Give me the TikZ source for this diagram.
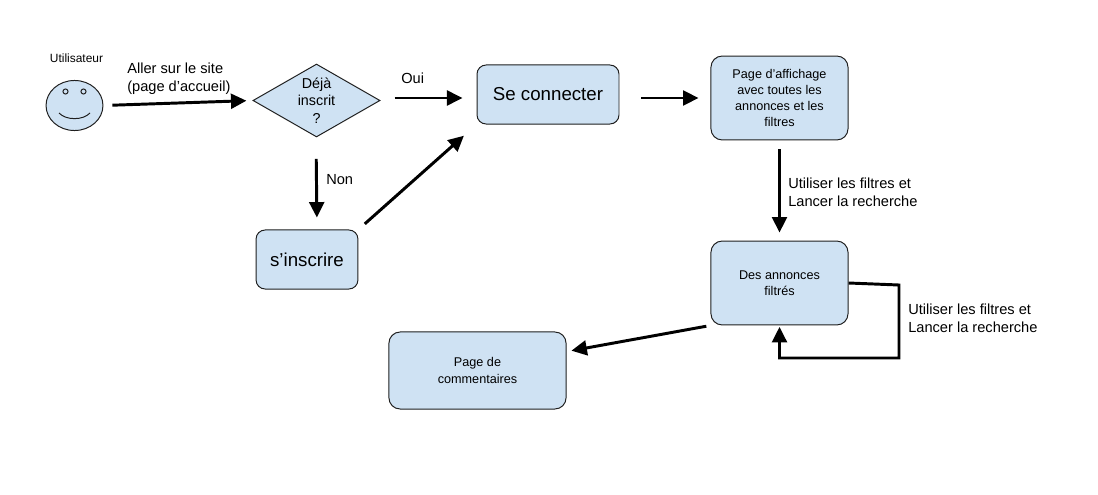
\documentclass[tikz,border=0pt]{standalone}
\usepackage{fontspec}
\setmainfont{Liberation Sans}
\usetikzlibrary{shapes.geometric, arrows.meta}
\definecolor{boxfill}{HTML}{CFE2F3}
\definecolor{boxline}{HTML}{1F1F1F}
\tikzset{
	x=0.7113pt, y=-0.7113pt, % Un pixel de la referencia
	>={Triangle[length=11pt, width=10.5pt]}, % Punta de las flechas
	flow/.style={->, line width=2.1pt, black},
	pagebox/.style={draw=boxline, fill=boxfill, line width=0.7pt, rounded corners=8pt, inner sep=0pt, align=center, font=\fontsize{9}{11.6}\selectfont},
	bigbox/.style={pagebox, rounded corners=6.5pt, font=\fontsize{13.3}{16}\selectfont},
	askbox/.style={draw=boxline, fill=boxfill, line width=0.7pt, diamond, aspect=1.74, inner sep=0pt, minimum width=90.4pt, minimum height=51.9pt},
	flowtext/.style={inner sep=0pt, align=left, anchor=west, font=\fontsize{10.4}{12.8}\selectfont}
}

\begin{document}
\begin{tikzpicture}
	\useasboundingbox (0,0) rectangle (1098,494);
	% Usuario
	\node[draw=boxline, fill=boxfill, line width=0.7pt, ellipse, inner sep=0pt, minimum width=40.5pt, minimum height=35.6pt] (face) at (74.5,105.5) {};
	\node[draw=boxline, line width=0.7pt, circle, inner sep=0pt, minimum size=3.6pt] (eyeleft) at (65.5,91.5) {};
	\node[draw=boxline, line width=0.7pt, circle, inner sep=0pt, minimum size=3.6pt] (eyeright) at (83.5,91.5) {};
	\coordinate (smileleft) at (59,113);
	\coordinate (smileright) at (90,113);
	\draw[boxline, line width=0.7pt] (smileleft) .. controls (66,120.5) and (83,120.5) .. (smileright);
	\node[inner sep=0pt, font=\fontsize{8.5}{10}\selectfont] (userlabel) at (76.5,58) {Utilisateur};
	% Nodos
	\node[askbox] (ask) at (316.5,100.5) {};
	\node[inner sep=0pt, align=center, font=\fontsize{10.2}{12.4}\selectfont] (asktext) at (316.5,100.5) {Déjà\\inscrit\\?};
	\node[bigbox, minimum width=101pt, minimum height=42pt] (connect) at (548,94.5) {Se connecter};
	\node[bigbox, minimum width=72.5pt, minimum height=42pt] (signup) at (307,259.5) {s’inscrire};
	\node[pagebox, minimum width=97.5pt, minimum height=59.7pt] (home) at (779.5,98) {Page d’affichage\\avec toutes les\\annonces et les\\filtres};
	\node[pagebox, minimum width=97.5pt, minimum height=59.7pt] (results) at (779.5,283) {Des annonces\\filtrés};
	\node[pagebox, minimum width=126pt, minimum height=54.8pt] (comments) at (477.5,370.5) {Page de\\commentaires};
	% Arcos
	\coordinate (loopa) at (899,285);
	\coordinate (loopb) at (899,358);
	\coordinate (loopc) at (779.5,358);
	\draw[flow, shorten <=6.4pt, shorten >=4.3pt] (face.east) -- (ask.west);
	\draw[flow, shorten <=10pt, shorten >=10pt] (ask.east |- 0,98) -- (connect.west |- 0,98);
	\draw[flow, shorten <=15.5pt, shorten >=8.5pt] (ask.south |- 0,137) ++(0,0) (316,137) -- (signup.north -| 317,0);
	\draw[flow, shorten <=6pt, shorten >=12pt] (signup.north east) -- (connect.south west);
	\draw[flow, shorten <=15.5pt, shorten >=8.5pt] (connect.east |- 0,98) -- (home.west |- 0,98);
	\draw[flow, shorten <=6.4pt, shorten >=5.7pt] (home.south) -- (results.north);
	\draw[flow, shorten >=1pt] (results.east) -- (loopa) -- (loopb) -- (loopc) -- (results.south);
	\draw[flow, shorten <=3pt, shorten >=3.5pt] (results.south west) -- (comments.12);
	% Etiquetas
	\node[flowtext] (gotext) at (127,78.5) {Aller sur le site\\(page d’accueil)};
	\node[flowtext] (yestext) at (401,78) {Oui};
	\node[flowtext] (notext) at (326,180) {Non};
	\node[flowtext] (searchtext) at (788,192) {Utiliser les filtres et\\Lancer la recherche};
	\node[flowtext] (againtext) at (908,318) {Utiliser les filtres et\\Lancer la recherche};
\end{tikzpicture}
\end{document}
